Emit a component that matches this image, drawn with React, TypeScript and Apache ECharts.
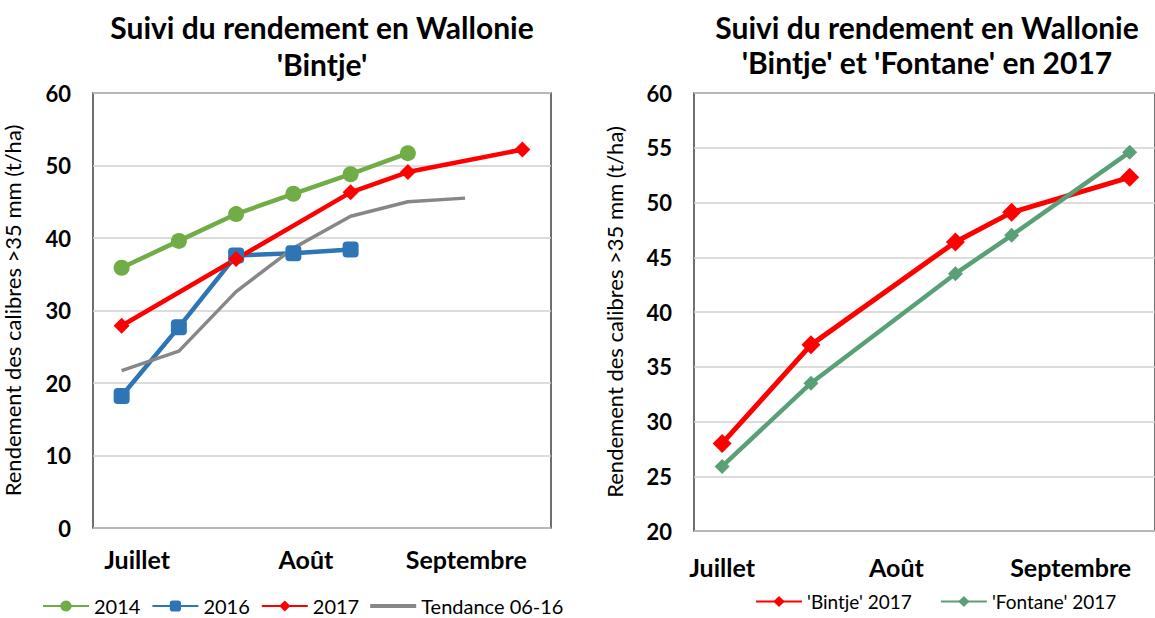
import React, { useEffect, useRef } from "react";
import * as echarts from "echarts";

// ---- Left chart data (weekly observation index) ----
const leftSeriesNames = ["2014", "2016", "2017", "Tendance 06-16"];
const x2014 = [0, 1, 2, 3, 4, 5];
const y2014 = [35.9, 39.6, 43.3, 46.1, 48.8, 51.7];
const x2016 = [0, 1, 2, 3, 4];
const y2016 = [18.2, 27.7, 37.6, 37.9, 38.4];
const x2017 = [0, 2, 4, 5, 7];
const y2017 = [27.9, 37.1, 46.3, 49.1, 52.2];
const xTrend = [0, 1, 2, 3, 4, 5, 6];
const yTrend = [21.7, 24.4, 32.6, 38.6, 43.0, 45.0, 45.5];

// ---- Right chart data (days from early July) ----
const rightSeriesNames = ["'Bintje' 2017", "'Fontane' 2017"];
const xDays = [0, 15.8, 41.5, 51.5, 72.5];
const yBintje = [28.0, 37.0, 46.4, 49.1, 52.3];
const yFontane = [25.9, 33.5, 43.5, 47.0, 54.6];

// ---- Month labels ----
const monthLabels = ["Juillet", "Août", "Septembre"];
const leftMonthTicks = [0.27, 3.22, 6.02];
const rightMonthTicks = [0, 31, 62];

const FONT = 'Lato, "Noto Sans", "DejaVu Sans", sans-serif';
const zip = (xs: number[], ys: number[]) => xs.map((x, i) => [x, ys[i]]);

export default function App() {
  const ref = useRef<HTMLDivElement>(null);
  useEffect(() => {
    if (!ref.current) return;
    const chart = echarts.init(ref.current, undefined, { renderer: "svg" });
    const monthFmt = (ticks: number[]) => (v: number) => {
      const i = ticks.findIndex((t) => Math.abs(t - v) < 1e-6);
      return i >= 0 ? monthLabels[i] : "";
    };
    const gridCommon = { show: true, borderColor: "#404040", borderWidth: 1.5, backgroundColor: "#fff" };
    const yCommon = {
      type: "value" as const,
      axisLine: { show: false },
      axisTick: { show: false },
      splitLine: { lineStyle: { color: "#D0D0D0", width: 1.5 } },
      axisLabel: { fontFamily: FONT, fontWeight: "bold" as const, fontSize: 22, color: "#000", margin: 22 },
      name: "Rendement des calibres >35 mm (t/ha)",
      nameLocation: "middle" as const,
      nameTextStyle: { fontFamily: FONT, fontSize: 22, color: "#000" },
    };
    const xCommon = {
      type: "value" as const,
      axisLine: { show: false },
      axisTick: { show: false },
      splitLine: { show: false },
    };
    const monthLabelStyle = {
      fontFamily: FONT,
      fontWeight: "bold" as const,
      fontSize: 25,
      color: "#000",
    };
    const titleText = (text: string, x: number, y: number) => ({
      type: "text",
      x,
      y,
      style: {
        text,
        textAlign: "center",
        textVerticalAlign: "middle",
        font: `bold 30px ${FONT}`,
        fill: "#000",
      },
    });
    const lineIcon = "path://M0,0 L46,0 L46,4 L0,4 Z";
    chart.setOption({
      animation: false,
      backgroundColor: "#fff",
      graphic: [
        titleText("Suivi du rendement en Wallonie", 322, 27),
        titleText("'Bintje'", 322, 64),
        titleText("Suivi du rendement en Wallonie", 927, 27),
        titleText("'Bintje' et 'Fontane' en 2017", 927, 62),
      ],
      grid: [
        { ...gridCommon, left: 93, top: 93, width: 458, height: 435 },
        { ...gridCommon, left: 694, top: 93, width: 470, height: 438 },
      ],
      xAxis: [
        {
          ...xCommon,
          gridIndex: 0,
          min: -0.5,
          max: 7.5,
          axisLabel: {
            ...monthLabelStyle,
            customValues: leftMonthTicks,
            formatter: monthFmt(leftMonthTicks),
            margin: 18,
          },
        },
        {
          ...xCommon,
          gridIndex: 1,
          min: -5,
          max: 77,
          axisLabel: {
            ...monthLabelStyle,
            customValues: rightMonthTicks,
            formatter: monthFmt(rightMonthTicks),
            margin: 23,
          },
        },
      ],
      yAxis: [
        { ...yCommon, gridIndex: 0, min: 0, max: 60, interval: 10, nameGap: 70 },
        { ...yCommon, gridIndex: 1, min: 20, max: 60, interval: 5, nameGap: 69 },
      ],
      legend: [
        {
          data: [
            leftSeriesNames[0],
            leftSeriesNames[1],
            leftSeriesNames[2],
            { name: leftSeriesNames[3], icon: lineIcon },
          ],
          left: 37,
          top: 591,
          itemWidth: 46,
          itemHeight: 14,
          itemGap: 11,
          textStyle: { fontFamily: FONT, fontSize: 20, color: "#000" },
        },
        {
          data: rightSeriesNames,
          left: 750,
          top: 587,
          itemWidth: 46,
          itemHeight: 14,
          itemGap: 28,
          textStyle: { fontFamily: FONT, fontSize: 19, color: "#000" },
        },
      ],
      series: [
        {
          name: "2014",
          type: "line",
          xAxisIndex: 0,
          yAxisIndex: 0,
          data: zip(x2014, y2014),
          symbol: "circle",
          symbolSize: 16,
          color: "#70AD47",
          lineStyle: { width: 4.5, color: "#70AD47" },
          itemStyle: { color: "#70AD47" },
        },
        {
          name: "2016",
          type: "line",
          xAxisIndex: 0,
          yAxisIndex: 0,
          data: zip(x2016, y2016),
          symbol: "roundRect",
          symbolSize: 16,
          color: "#2E75B6",
          lineStyle: { width: 4.5, color: "#2E75B6" },
          itemStyle: { color: "#2E75B6" },
        },
        {
          name: "2017",
          type: "line",
          xAxisIndex: 0,
          yAxisIndex: 0,
          data: zip(x2017, y2017),
          symbol: "diamond",
          symbolSize: 16,
          color: "#FF0000",
          lineStyle: { width: 4.5, color: "#FF0000" },
          itemStyle: { color: "#FF0000" },
        },
        {
          name: "Tendance 06-16",
          type: "line",
          xAxisIndex: 0,
          yAxisIndex: 0,
          data: zip(xTrend, yTrend),
          symbol: "none",
          color: "#878787",
          lineStyle: { width: 3.5, color: "#878787" },
          itemStyle: { color: "#878787" },
        },
        {
          name: "'Bintje' 2017",
          type: "line",
          xAxisIndex: 1,
          yAxisIndex: 1,
          data: zip(xDays, yBintje),
          symbol: "diamond",
          symbolSize: 19,
          color: "#FF0000",
          lineStyle: { width: 5, color: "#FF0000" },
          itemStyle: { color: "#FF0000" },
        },
        {
          name: "'Fontane' 2017",
          type: "line",
          xAxisIndex: 1,
          yAxisIndex: 1,
          data: zip(xDays, yFontane),
          symbol: "diamond",
          symbolSize: 15,
          color: "#5AA077",
          lineStyle: { width: 4.5, color: "#5AA077" },
          itemStyle: { color: "#5AA077" },
        },
      ],
    });
    return () => chart.dispose();
  }, []);
  return (
    <div
      ref={ref}
      style={{ position: "fixed", left: 0, top: 0, width: 1155, height: 618 }}
    />
  );
}
